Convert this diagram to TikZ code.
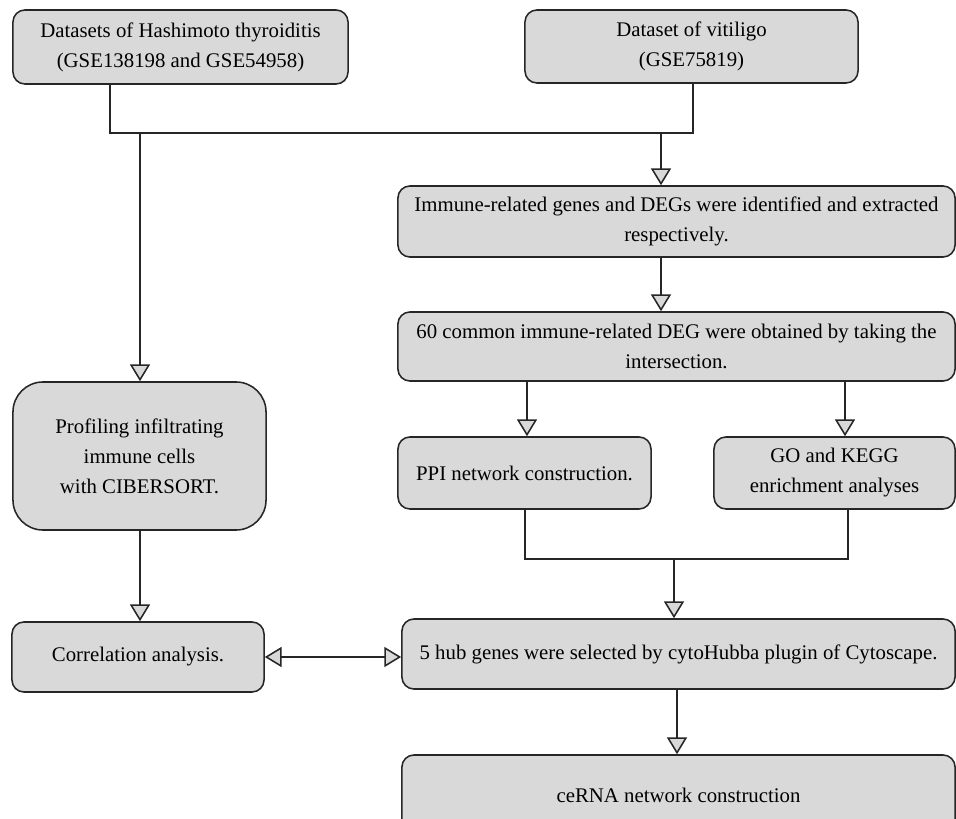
\documentclass[tikz,border=0pt]{standalone}
\usepackage{fontspec}
\setmainfont{Liberation Serif}
\usetikzlibrary{arrows.meta}
\definecolor{boxgray}{HTML}{D9D9D9}
\definecolor{linegray}{HTML}{262626}

\begin{document}
\begin{tikzpicture}[x=0.025cm,y=-0.025cm,
	box/.style={draw=linegray, line width=1.1pt, fill=boxgray, rounded corners=0.3cm, align=center, inner sep=0pt, font=\fontsize{14.8}{21.3}\selectfont},
	link/.style={draw=linegray, line width=1.1pt},
	pile/.style={link, -{Triangle[length=0.42cm,width=0.5cm,fill=boxgray]}},
	twoway/.style={link, {Triangle[length=0.42cm,width=0.5cm,fill=boxgray]}-{Triangle[length=0.42cm,width=0.5cm,fill=boxgray]}}]

	\useasboundingbox (0,0) rectangle (956,819);

	% Boxes
	\node[box, minimum width=8.375cm, minimum height=1.85cm] (ht) at (180.5,47) {Datasets of Hashimoto thyroiditis\\(GSE138198 and GSE54958)};
	\node[box, minimum width=8.325cm, minimum height=1.825cm] (vit) at (691.5,46.5) {Dataset of vitiligo\\(GSE75819)};
	\node[box, minimum width=13.925cm, minimum height=1.775cm] (immune) at (676.5,221.5) {Immune-related genes and DEGs were identified and extracted\\respectively.};
	\node[box, minimum width=13.925cm, minimum height=1.725cm] (common) at (676.5,346.5) {60 common immune-related DEG were obtained by taking the\\intersection.};
	\node[box, minimum width=6.325cm, minimum height=1.8cm] (ppi) at (524.5,473) {PPI network construction.};
	\node[box, minimum width=6.025cm, minimum height=1.8cm] (go) at (834.5,473) {GO and KEGG\\enrichment analyses};
	\node[box, minimum width=13.825cm, minimum height=1.75cm] (hub) at (678.5,654) {5 hub genes were selected by cytoHubba plugin of Cytoscape.};
	\node[box, minimum width=13.825cm, minimum height=2cm] (cerna) at (678.5,795) {ceRNA network construction};
	\node[box, rounded corners=0.75cm, minimum width=6.325cm, minimum height=3.7cm] (prof) at (139.5,456) {Profiling infiltrating\\immune cells\\with CIBERSORT.};
	\node[box, minimum width=6.3cm, minimum height=1.75cm] (corr) at (138,657) {Correlation analysis.};

	% Junctions
	\coordinate (htout) at (110,133);
	\coordinate (vitout) at (693,133);
	\coordinate (split) at (140,133);
	\coordinate (merge) at (661,133);
	\coordinate (ppiin) at (527,400);
	\coordinate (goin) at (845,400);
	\coordinate (ppiout) at (525,559);
	\coordinate (goout) at (848,559);
	\coordinate (join) at (674,559);
	\coordinate (hubout) at (677,720);

	% Connectors
	\draw[link] (ht.south -| htout) -- (htout) -- (vitout) -- (vit.south -| vitout);
	\draw[pile] (split) -- (prof.north -| split);
	\draw[pile] (merge) -- (immune.north -| merge);
	\draw[pile] (immune.south -| merge) -- (common.north -| merge);
	\draw[pile] (common.south -| ppiin) -- (ppi.north -| ppiin);
	\draw[pile] (common.south -| goin) -- (go.north -| goin);
	\draw[link] (ppi.south -| ppiout) -- (ppiout) -- (goout) -- (go.south -| goout);
	\draw[pile] (join) -- (hub.north -| join);
	\draw[pile] (hub.south -| hubout) -- (cerna.north -| hubout);
	\draw[pile] (prof.south -| split) -- (corr.north -| split);
	\draw[twoway] (corr.east) -- (corr.east -| hub.west);

\end{tikzpicture}
\end{document}
